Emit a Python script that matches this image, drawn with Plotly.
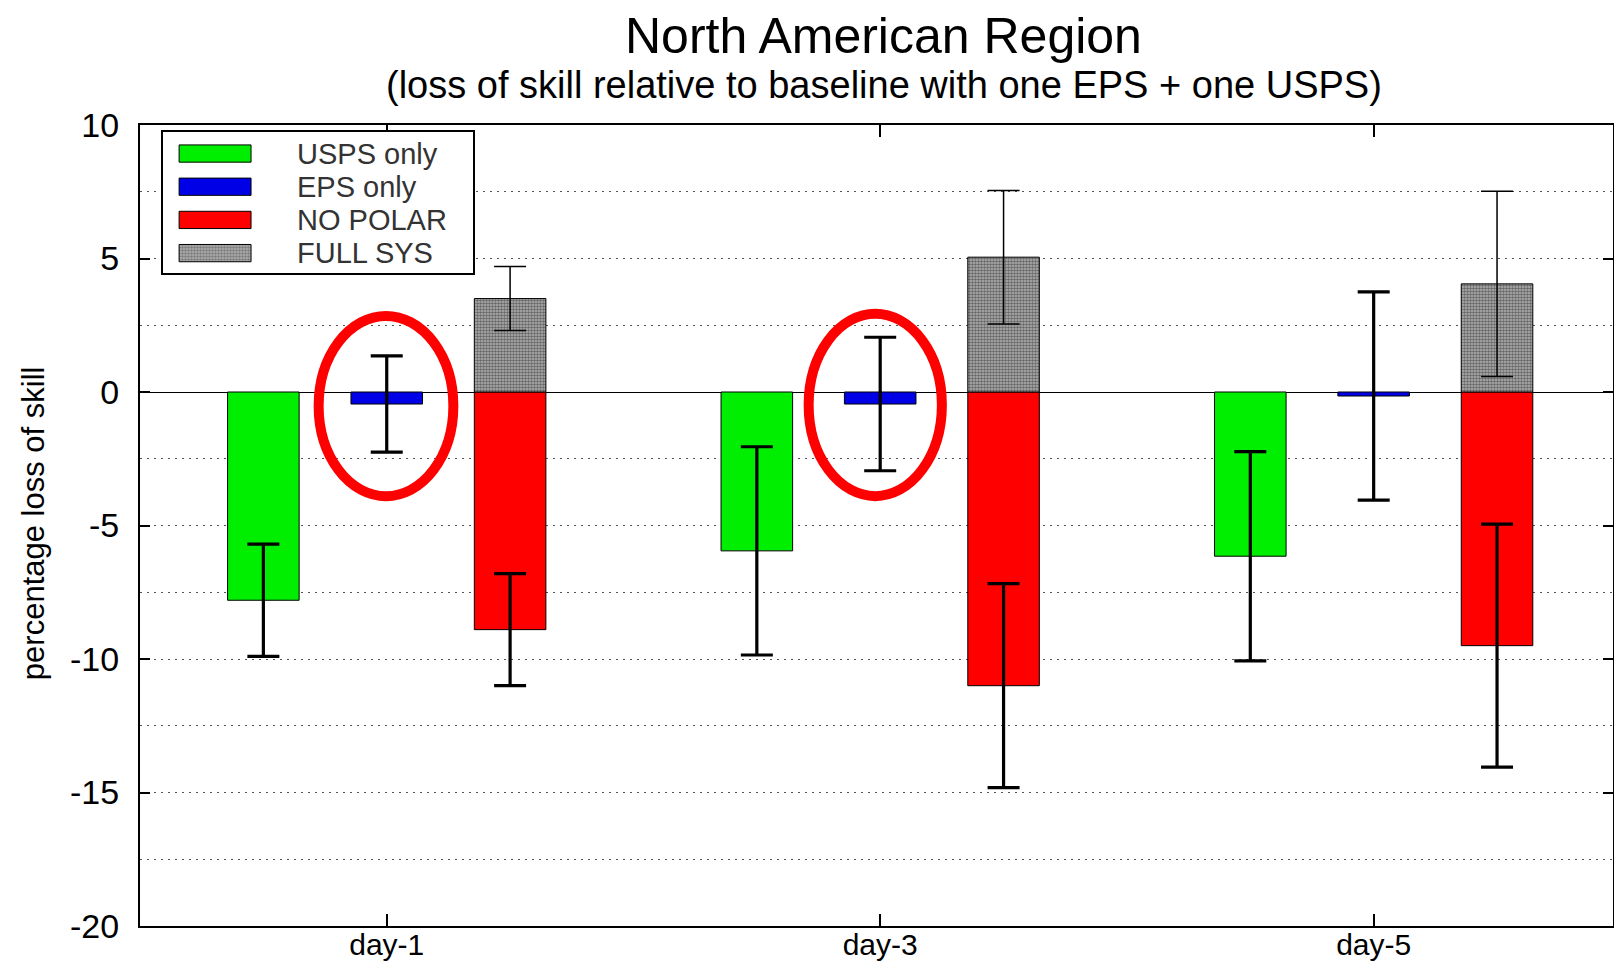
import plotly.graph_objects as go

# categories
days = ["day-1", "day-3", "day-5"]
day_pos = [1, 2, 3]

# percentage loss of skill per experiment (+/- error)
usps_only = [-7.8, -5.95, -6.15]
usps_err = [2.1, 3.9, 3.92]
eps_only = [-0.45, -0.45, -0.15]
eps_err = [1.8, 2.5, 3.9]
no_polar = [-8.9, -11.0, -9.5]
no_polar_err = [2.1, 3.82, 4.55]
full_sys = [3.5, 5.05, 4.05]
full_sys_err = [1.2, 2.5, 3.47]

y_ticks = [-20, -15, -10, -5, 0, 5, 10]
legend_names = ["USPS only", "EPS only", "NO POLAR", "FULL SYS"]

GREEN = "#00ee00"
BLUE = "#0000e6"
RED = "#ff0000"
GRAY_BG = "#b4b4b4"
FONT = "Liberation Sans, Arial, Helvetica, sans-serif"
BAR_W = 0.145
GRAY_PATTERN = dict(shape=".", fgcolor="#1a1a1a", bgcolor=GRAY_BG, size=3, solidity=0.55)


def make_bar(vals, errs, color, shift, pattern=None, thick=3.2):
    marker = dict(color=color, line=dict(color="black", width=1))
    if pattern:
        marker["pattern"] = pattern
    return go.Bar(
        x=day_pos, y=vals, width=BAR_W, offset=shift - BAR_W / 2,
        marker=marker, showlegend=False, hoverinfo="y",
        error_y=dict(type="data", array=errs, color="black",
                     thickness=thick, width=16),
    )


fig = go.Figure()
fig.add_trace(make_bar(usps_only, usps_err, GREEN, -0.25))
fig.add_trace(make_bar(eps_only, eps_err, BLUE, 0.0))
fig.add_trace(make_bar(no_polar, no_polar_err, RED, 0.25))
fig.add_trace(make_bar(full_sys, full_sys_err, GRAY_BG, 0.25,
                       pattern=GRAY_PATTERN, thick=1.5))

# legend drawn as a small inset subplot so the swatches can be wide
fig.add_trace(go.Bar(
    x=[0.232] * 4, y=legend_names, base=0.052, orientation="h", width=0.52,
    xaxis="x2", yaxis="y2", showlegend=False, hoverinfo="skip",
    marker=dict(
        color=[GREEN, BLUE, RED, GRAY_BG],
        line=dict(color="black", width=1),
        pattern=dict(shape=["", "", "", "."], fgcolor="#1a1a1a",
                     bgcolor=[GREEN, BLUE, RED, GRAY_BG], size=3, solidity=0.55),
    ),
))
for name in legend_names:
    fig.add_annotation(x=0.425, y=name, xref="x2", yref="y2", text=name,
                       showarrow=False, xanchor="left", yanchor="middle",
                       font=dict(family=FONT, size=29, color="#333333"))

# red rings around the EPS-only bars
rings = [(0.862, 1.135, -3.9, 2.85), (1.855, 2.125, -3.9, 2.93)]
for x0, x1, y0, y1 in rings:
    fig.add_shape(type="circle", xref="x", yref="y", x0=x0, x1=x1, y0=y0, y1=y1,
                  line=dict(color="#ff0000", width=10), layer="above")

fig.add_annotation(text="North American Region", x=0.505, y=1.111, xref="paper",
                   yref="paper", showarrow=False, xanchor="center", yanchor="middle",
                   font=dict(family=FONT, size=50, color="black"))
fig.add_annotation(text="(loss of skill relative to baseline with one EPS + one USPS)",
                   x=0.505, y=1.05, xref="paper", yref="paper", showarrow=False,
                   xanchor="center", yanchor="middle",
                   font=dict(family=FONT, size=38, color="black"))
fig.add_annotation(text="percentage loss of skill", x=-0.0726, y=0.503, xref="paper",
                   yref="paper", showarrow=False, textangle=-90,
                   xanchor="center", yanchor="middle",
                   font=dict(family=FONT, size=31, color="black"))

grid_style = dict(gridcolor="#555555", gridwidth=1, griddash="2px,5px")

# page body adds an 8px margin, so the figure is sized to fit the window
fig.update_layout(
    width=1606, height=954,
    margin=dict(l=132, r=1, t=117, b=36),
    paper_bgcolor="white", plot_bgcolor="white",
    barmode="overlay", showlegend=False,
    font=dict(family=FONT, color="black"),
    xaxis=dict(
        range=[0.5, 3.485], tickvals=day_pos, ticktext=days, automargin=False,
        ticks="inside", ticklen=12, tickwidth=1.5, tickcolor="black",
        showline=True, linecolor="black", linewidth=2, mirror="ticks",
        showgrid=False, zeroline=False, ticklabelstandoff=-9,
        tickfont=dict(family=FONT, size=30, color="black"),
    ),
    yaxis=dict(
        range=[-20, 10], tickvals=y_ticks, ticktext=[str(v) for v in y_ticks],
        automargin=False,
        ticks="inside", ticklen=10, tickwidth=1.5, tickcolor="black",
        showline=True, linecolor="black", linewidth=2, mirror="ticks",
        showgrid=True, zeroline=True, zerolinecolor="black", zerolinewidth=1.2,
        minor=dict(dtick=2.5, tick0=0, showgrid=True, **grid_style),
        ticklabelstandoff=12,
        tickfont=dict(family=FONT, size=34, color="black"),
        **grid_style,
    ),
    xaxis2=dict(
        domain=[0.0156, 0.2261], range=[0, 1], anchor="y2", automargin=False,
        showline=True, mirror=True, linecolor="black", linewidth=1.5,
        showgrid=False, zeroline=False, showticklabels=False, ticks="",
        fixedrange=True,
    ),
    yaxis2=dict(
        domain=[0.8152, 0.9913], anchor="x2", type="category", automargin=False,
        categoryorder="array", categoryarray=legend_names, range=[3.6, -0.65],
        showline=True, mirror=True, linecolor="black", linewidth=1.5,
        showgrid=False, zeroline=False, showticklabels=False, ticks="",
        fixedrange=True,
    ),
)

fig.write_html("out.html")
